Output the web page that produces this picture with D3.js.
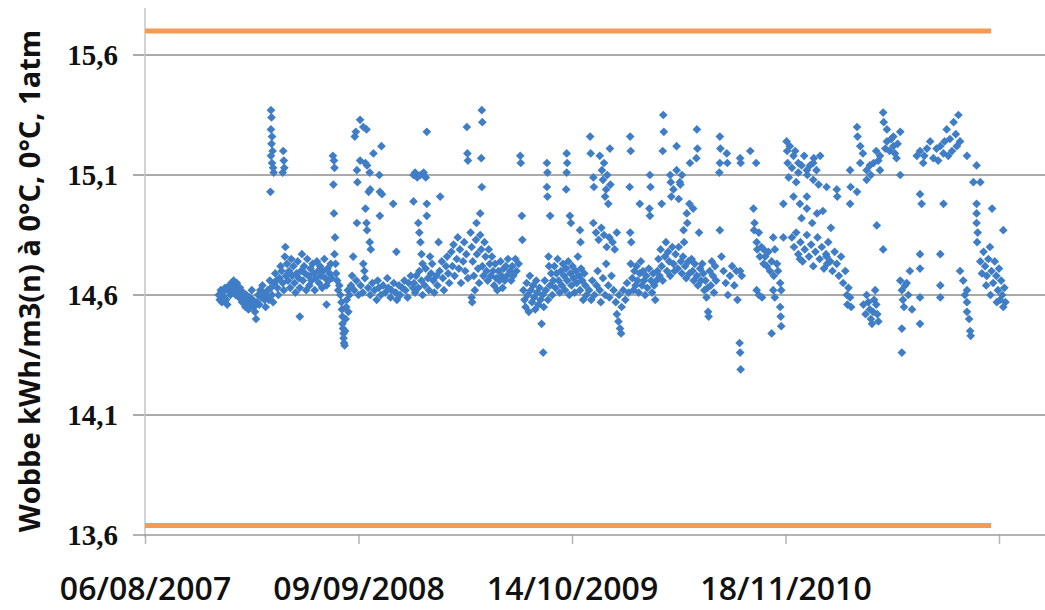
<!DOCTYPE html>
<html>
<head>
<meta charset="utf-8">
<script src="https://cdn.jsdelivr.net/npm/d3@7"></script>
<style>
  html, body { margin: 0; padding: 0; background: #fff; }
  svg { display: block; }
</style>
</head>
<body>
<svg id="chart"></svg>
<script>
// points are [days since 06/08/2007, Wobbe kWh/m3(n)]
const startDate = new Date(2007, 7, 6);
const tickDays = [0, 400, 800, 1200, 1600];
const tickLabels = ['06/08/2007', '09/09/2008', '14/10/2009', '18/11/2010', ''];
const yTicks = [13.6, 14.1, 14.6, 15.1, 15.6];
const limitHigh = 15.70;
const limitLow = 13.64;
const limitDays = [0, 1585];

const winter2007 = [
  [138,14.60],[140,14.58],[142,14.62],[144,14.57],[146,14.61],[148,14.59],[150,14.63],[152,14.58],[154,14.56],[156,14.62],
  [158,14.64],[160,14.60],[162,14.65],[164,14.62],[166,14.66],[168,14.63],[170,14.60],[172,14.65],[174,14.62],[176,14.59],
  [178,14.63],[180,14.60],[182,14.57],[184,14.61],[186,14.58],[188,14.55],[190,14.60],[192,14.57],[194,14.54],[196,14.59],
  [198,14.56],[200,14.62],[202,14.58],[204,14.55],[206,14.53],[208,14.50],[210,14.57],[212,14.60],[214,14.56],[216,14.62],
  [218,14.59],[220,14.64],[222,14.61],[224,14.58],[226,14.55],[228,14.60],
  [236,15.37],[237,15.34],[236,15.29],[238,15.26],[237,15.23],[239,15.20],[236,15.18],[238,15.15],[240,15.13],[241,15.11],
  [235,15.03],[259,15.20],[260,15.16],[261,15.13],[258,15.11],
  [230,14.62],[232,14.58],[234,14.66],[236,14.63],[238,14.60],[240,14.57],[242,14.65],[244,14.69],[246,14.66],[248,14.63],
  [250,14.60],[252,14.67],[254,14.72],[256,14.70],[258,14.65],[260,14.62],[262,14.76],[263,14.80],[264,14.68],[266,14.73],
  [268,14.66],[270,14.70],[272,14.63],[274,14.75],[276,14.68],[278,14.72],[280,14.65],[282,14.61],[284,14.69],[286,14.74],
  [288,14.67],[290,14.51],[290,14.63],[292,14.70],[294,14.77],[296,14.66],[298,14.72],[300,14.69],[302,14.62],[304,14.75],
  [306,14.68],[308,14.64],[310,14.71],[312,14.66],[314,14.73],[316,14.69],[318,14.62],[320,14.67],[322,14.74],[324,14.70],
  [326,14.65],[328,14.72],[330,14.68],[332,14.63],[334,14.70],[336,14.75],[338,14.67],[340,14.56],[340,14.64],[342,14.71],
  [344,14.66],[346,14.69],[348,14.73],[350,14.67]
];

const season2008 = [
  [352,15.18],[354,15.16],[355,15.13],[353,15.06],[354,14.94],[356,14.84],[355,14.77],[357,14.73],[358,14.69],[360,14.66],
  [362,14.62],[364,14.64],[366,14.60],[368,14.57],[369,14.54],[370,14.51],[370,14.48],[371,14.46],[372,14.44],[372,14.42],
  [373,14.40],[374,14.39],[375,14.45],[376,14.50],[377,14.55],[378,14.58],[380,14.62],[381,14.53],[383,14.60],
  [393,15.26],[395,15.28],[403,15.33],[409,15.30],[415,15.29],[397,15.12],[398,15.07],[403,15.16],[413,15.15],[416,15.14],
  [421,15.11],[422,15.04],[419,15.03],[428,15.19],[443,15.22],[439,15.10],[440,15.03],[444,15.02],[465,14.98],[397,14.90],
  [413,14.96],[415,14.90],[416,14.87],[421,14.82],[423,14.79],[440,14.93],[471,14.78],[390,14.76],[409,14.73],[411,14.70],
  [386,14.64],[388,14.68],[392,14.62],[396,14.66],[400,14.60],[404,14.64],[408,14.61],[412,14.67],[418,14.63],[422,14.60],
  [426,14.65],[430,14.62],[434,14.58],[436,14.66],[438,14.63],[442,14.60],[446,14.64],[450,14.61],[454,14.67],[456,14.63],
  [460,14.59],[462,14.62],[466,14.65],[470,14.61],[472,14.58],[476,14.64],[478,14.60],[482,14.63],[486,14.66],[488,14.62],
  [492,14.59],[494,14.65],[498,14.68],[502,14.63],
  [503,15.10],[506,15.11],[510,15.09],[516,15.10],[522,15.11],[526,15.09],[503,14.99],[528,14.98],[528,15.28],[528,14.93],
  [553,15.01],[550,14.82],[512,14.90],[514,14.86],[516,14.82],[518,14.77],[520,14.73],[534,14.76],[504,14.65],[506,14.61],
  [508,14.68],[512,14.63],[514,14.70],[518,14.66],[520,14.60],[524,14.64],[526,14.71],[530,14.67],[532,14.62],[536,14.69],
  [538,14.73],[540,14.66],[542,14.61],[546,14.68],[548,14.64],[552,14.70],[556,14.74],[558,14.67],[560,14.62],[564,14.72],
  [566,14.76],[568,14.69],[570,14.65],[574,14.78],[576,14.72],[578,14.81],[580,14.68],[584,14.75],[586,14.84],[588,14.71],
  [590,14.79],[592,14.65],[596,14.74],[598,14.82],[600,14.70],[602,14.77],[605,14.67],[603,15.30],[604,15.19],[605,15.16]
];

const season2009 = [
  [612,14.59],[613,14.57],[631,15.37],[632,15.32],[630,15.17],[631,15.05],[628,14.94],[621,14.90],[610,14.86],[612,14.80],
  [614,14.74],[616,14.68],[618,14.62],[620,14.83],[622,14.77],[624,14.71],[626,14.65],[628,14.85],[630,14.79],[632,14.72],
  [634,14.68],[636,14.82],[638,14.76],[640,14.70],[642,14.66],[644,14.79],[646,14.73],[648,14.68],[650,14.76],[652,14.70],
  [654,14.64],[656,14.73],[658,14.67],[660,14.62],[662,14.70],[664,14.66],[666,14.74],[668,14.68],[670,14.63],[672,14.71],
  [674,14.66],[676,14.72],[678,14.68],[680,14.75],[684,14.70],[686,14.66],[688,14.72],[690,14.68],[694,14.75],[696,14.70],
  [700,14.73],[703,15.18],[704,15.15],[706,14.93],[707,14.83],
  [709,14.62],[711,14.58],[713,14.55],[715,14.65],[717,14.60],[719,14.53],[721,14.68],[723,14.62],[725,14.57],[727,14.64],
  [729,14.59],[731,14.54],[733,14.66],[735,14.61],[737,14.56],[739,14.63],[741,14.58],[743,14.48],[746,14.36],[745,14.60],
  [747,14.55],[749,14.66],[751,14.62],[753,15.15],[754,15.11],[753,15.05],[754,15.01],[759,14.93],[756,14.76],[757,14.72],
  [755,14.58],[759,14.64],[761,14.69],[763,14.60],[765,14.66],[767,14.72],[769,14.63],[771,14.69],[773,14.75],[775,14.66],
  [777,14.61],[779,14.70],[781,14.64],[783,14.73],[785,14.68],[787,14.62],[789,14.71],[790,15.19],[791,15.15],[790,15.11],
  [789,15.04],[791,14.66],[793,14.74],[795,14.60],[796,14.93],[798,14.90],[797,14.69],[799,14.64],[801,14.72],[803,14.67],
  [805,14.61],[807,14.70],[809,14.65],[811,14.76],[813,14.68],[815,14.87],[816,14.82],[815,14.62],[817,14.71],[819,14.66],
  [821,14.58],[823,14.69],[825,14.64],[827,14.60],
  [834,15.26],[835,15.19],[840,15.09],[841,15.05],[852,15.18],[856,15.12],[860,15.15],[858,15.08],[864,15.04],[862,15.01],
  [866,15.10],[868,14.98],[871,15.21],[872,15.06],[840,14.90],[845,14.86],[850,14.83],[855,14.88],[860,14.85],[865,14.80],
  [870,14.84],[876,14.82],[880,14.79],[884,14.86],[832,14.62],[836,14.58],[838,14.66],[842,14.60],[846,14.64],[848,14.70],
  [852,14.62],[854,14.57],[858,14.67],[862,14.60],[864,14.73],[868,14.64],[870,14.59],[874,14.68],[878,14.62],[882,14.57],
  [884,14.52],[887,14.49],[890,14.46],[892,14.44],[888,14.60],[893,14.55],[896,14.62],[900,14.58],[903,14.65],[906,14.61],
  [909,15.26],[910,15.20],[908,15.05],[909,14.86],[911,14.82],[910,14.73],[913,14.67],[915,14.62],[917,14.70],[919,14.64],
  [921,14.72],[923,14.66],[925,14.61],[927,14.98],[927,14.69],[929,14.74],[931,14.64],[933,14.70],[935,14.66],[937,14.60],
  [939,14.68],[941,14.63],[944,14.71],[946,15.10],[947,15.05],[945,14.96],[946,14.93],[948,14.66],[950,14.61],[952,14.69],
  [954,14.64],[956,14.58],[958,14.66]
];

const season2010 = [
  [971,15.35],[972,15.28],[970,15.20],[968,14.98],[984,15.10],[985,15.07],[986,15.01],[990,15.04],[996,15.12],[996,15.22],
  [1000,15.00],[1002,15.07],[1003,15.06],[1006,15.10],[1009,14.87],[1010,14.82],[1015,14.94],[1016,14.90],[1020,14.98],[1021,15.15],
  [1027,14.96],[1034,15.29],[1035,15.21],[1033,15.17],[1038,14.86],[960,14.70],[962,14.75],[964,14.68],[966,14.79],[968,14.72],
  [970,14.66],[974,14.76],[976,14.82],[978,14.70],[980,14.78],[982,14.74],[984,14.68],[988,14.80],[990,14.73],[992,14.70],
  [994,14.77],[998,14.71],[1000,14.80],[1004,14.74],[1006,14.69],[1008,14.76],[1012,14.72],[1014,14.67],[1018,14.74],[1020,14.69],
  [1024,14.75],[1026,14.70],[1028,14.66],[1030,14.73],[1034,14.68],[1036,14.64],[1040,14.71],[1042,14.66],[1044,14.73],[1046,14.69],
  [1048,14.62],[1050,14.66],[1052,14.59],[1054,14.63],[1055,14.53],[1056,14.51],[1058,14.70],[1060,14.64],[1062,14.74],[1064,14.68],
  [1066,14.61],[1068,14.72],[1070,14.66],[1077,15.26],[1078,15.21],[1077,15.15],[1076,15.11],[1077,14.87],[1090,15.19],[1091,15.15],
  [1080,14.76],[1084,14.70],[1088,14.65],[1092,14.60],[1096,14.68],[1100,14.72],[1104,14.64],[1108,14.70],[1110,14.58],
  [1115,15.17],[1116,15.15],[1134,15.20],[1145,15.15],[1114,14.40],[1115,14.36],[1116,14.29],[1115,14.70],[1118,14.68],
  [1140,14.96],[1142,14.90],[1141,14.87],[1146,14.82],[1147,14.79],[1152,14.76],[1159,14.79],[1159,14.73],[1171,14.70],[1177,14.84],
  [1180,14.79],[1184,14.73],[1190,14.65],[1196,14.84],[1150,14.86],[1155,14.80],[1162,14.76],[1165,14.72],[1168,14.78],[1174,14.74],
  [1178,14.68],[1186,14.70],[1192,14.62],[1146,14.62],[1150,14.60],[1156,14.59],[1177,14.62],[1180,14.59],[1190,14.55],[1191,14.51],
  [1192,14.47],[1174,14.44],[1196,14.98],
  [1202,15.24],[1203,15.20],[1204,15.15],[1215,15.18],[1224,15.15],[1224,15.11],[1240,15.12],[1241,15.10],[1252,15.15],[1253,15.17],
  [1252,15.08],[1265,15.18],[1208,15.22],[1212,15.13],[1218,15.20],[1230,15.14],[1235,15.18],[1246,15.14],[1258,15.12],[1262,15.06],
  [1206,15.09],[1220,15.07],[1215,15.01],[1227,14.98],[1240,15.01],[1277,15.05],[1296,15.04],[1297,15.01],[1240,14.96],[1259,14.94],
  [1230,14.92],[1250,14.90],[1270,14.95],[1285,14.88],[1212,14.84],[1216,14.80],[1220,14.86],[1224,14.77],[1228,14.82],[1232,14.74],
  [1236,14.79],[1240,14.85],[1244,14.76],[1248,14.81],[1252,14.72],[1256,14.78],[1260,14.84],[1264,14.75],[1268,14.80],[1272,14.71],
  [1276,14.77],[1280,14.82],[1284,14.74],[1288,14.70],[1292,14.78],[1296,14.73],[1300,14.68],[1304,14.76],[1308,14.65],[1312,14.70],
  [1315,14.60],[1316,14.56],[1318,14.63],[1227,14.75],[1277,14.76],[1278,14.73],[1321,15.12],[1322,15.05],[1321,14.98],[1334,15.03]
];

const season2011 = [
  [1334,15.30],[1335,15.26],[1340,15.22],[1340,15.15],[1352,15.12],[1352,15.08],[1365,15.15],[1377,15.18],[1383,15.36],[1384,15.32],
  [1390,15.29],[1390,15.24],[1402,15.26],[1402,15.22],[1408,15.17],[1415,15.28],[1377,15.12],[1415,15.10],[1345,15.19],[1358,15.14],
  [1370,15.20],[1374,15.16],[1395,15.20],[1398,15.25],[1405,15.19],[1410,15.23],[1360,15.10],[1387,15.21],[1371,14.89],[1383,14.79],
  [1352,14.60],[1355,14.57],[1358,14.54],[1360,14.50],[1362,14.48],[1364,14.53],[1366,14.58],[1368,14.62],[1370,14.56],[1372,14.52],
  [1374,14.49],[1346,14.56],[1350,14.52],[1321,14.59],[1323,14.55],
  [1415,14.66],[1418,14.62],[1420,14.58],[1422,14.55],[1424,14.64],[1418,14.46],[1418,14.36],[1427,14.65],[1430,14.60],[1433,14.70],
  [1437,14.54],[1452,14.59],[1452,14.48],[1452,14.77],[1452,14.71],
  [1446,15.18],[1465,15.21],[1458,15.15],[1471,15.24],[1490,15.22],[1502,15.29],[1515,15.32],[1524,15.35],[1527,15.24],[1496,15.19],
  [1452,15.20],[1460,15.18],[1477,15.17],[1483,15.21],[1486,15.16],[1508,15.25],[1512,15.20],[1519,15.27],[1521,15.22],[1505,15.18],
  [1498,15.24],[1540,15.18],[1558,15.14],[1552,15.07],[1565,15.07],[1452,15.02],[1455,14.98],[1496,14.98],
  [1490,14.77],[1490,14.64],[1490,14.59],[1527,14.70],[1540,14.62],[1540,14.57],[1540,14.53],[1546,14.45],[1547,14.43],[1533,14.66],
  [1536,14.60],[1544,14.50],[1558,14.98],[1558,14.94],[1558,14.90],[1560,14.86],[1559,14.82],[1587,14.96],[1608,14.87],
  [1571,14.78],[1574,14.72],[1577,14.68],[1580,14.75],[1583,14.80],[1586,14.70],[1589,14.65],[1592,14.74],[1595,14.68],[1598,14.62],
  [1600,14.71],[1602,14.58],[1604,14.66],[1606,14.60],[1608,14.55],[1610,14.63],[1612,14.57],[1565,14.74],[1568,14.69],[1576,14.64],
  [1584,14.60],[1596,14.57]
];

const width = 1045;
const height = 610;
const margin = { top: 8, left: 145, bottom: 537 };

const addDays = (n) => d3.timeDay.offset(startDate, n);

const svg = d3.select('#chart').attr('width', width).attr('height', height);
svg.append('rect').attr('width', width).attr('height', height).attr('fill', '#fff');

const x = d3.scaleTime()
  .domain([addDays(0), addDays(1600)])
  .range([145, 999]);
const y = d3.scaleLinear()
  .domain([13.6, 15.6])
  .range([535, 55]);

// gridlines + y ticks
svg.append('g')
  .selectAll('line')
  .data(yTicks.slice(1))
  .join('line')
  .attr('x1', 133).attr('x2', width)
  .attr('y1', d => y(d)).attr('y2', d => y(d))
  .attr('stroke', '#8e8e8e').attr('stroke-width', 1.5);

// y axis line
svg.append('line')
  .attr('x1', margin.left).attr('x2', margin.left)
  .attr('y1', margin.top).attr('y2', y(13.6) + 2)
  .attr('stroke', '#c4c4c4').attr('stroke-width', 1.5);

// x axis
const xAxis = d3.axisBottom(x)
  .tickValues(tickDays.map(addDays))
  .tickSize(9)
  .tickFormat((d, i) => tickLabels[i]);
const gx = svg.append('g').attr('transform', 'translate(0,' + y(13.6) + ')').call(xAxis);
gx.select('.domain').remove();
gx.append('line').attr('x1', 133).attr('x2', width).attr('stroke', '#9a9a9a').attr('stroke-width', 1.5);
gx.selectAll('.tick line').attr('stroke', '#b5b5b5').attr('stroke-width', 1.5);
gx.selectAll('.tick text')
  .attr('y', 0).attr('dy', 65)
  .attr('fill', '#111')
  .style('font-family', '"Open Sans", sans-serif')
  .style('font-weight', '600')
  .style('font-size', '32px');

// y tick labels
svg.append('g')
  .selectAll('text')
  .data(yTicks)
  .join('text')
  .attr('x', 118)
  .attr('y', d => y(d))
  .attr('dy', '0.35em')
  .attr('text-anchor', 'end')
  .style('font-family', '"Liberation Serif", serif')
  .style('font-weight', 'bold')
  .style('font-size', '29px')
  .attr('fill', '#111')
  .text(d => d3.format('.1f')(d).replace('.', ','));

// y title
svg.append('text')
  .attr('transform', 'translate(40,281) rotate(-90)')
  .attr('text-anchor', 'middle')
  .style('font-family', '"Open Sans", sans-serif')
  .style('font-weight', 'bold')
  .style('font-size', '29px')
  .attr('fill', '#111')
  .text('Wobbe kWh/m3(n) à 0°C, 0°C, 1atm');

// limits
[limitHigh, limitLow].forEach(v => {
  svg.append('line')
    .attr('x1', x(addDays(limitDays[0]))).attr('x2', x(addDays(limitDays[1])))
    .attr('y1', y(v)).attr('y2', y(v))
    .attr('stroke', '#f49a52').attr('stroke-width', 5);
});

// measurements
const points = [].concat(winter2007, season2008, season2009, season2010, season2011);
const diamond = d3.symbol().type(d3.symbolSquare).size(38);
svg.append('g')
  .selectAll('path')
  .data(points)
  .join('path')
  .attr('d', diamond)
  .attr('transform', d => 'translate(' + x(addDays(d[0])) + ',' + y(d[1]) + ') rotate(45)')
  .attr('fill', '#3f7ec6');
</script>
</body>
</html>
